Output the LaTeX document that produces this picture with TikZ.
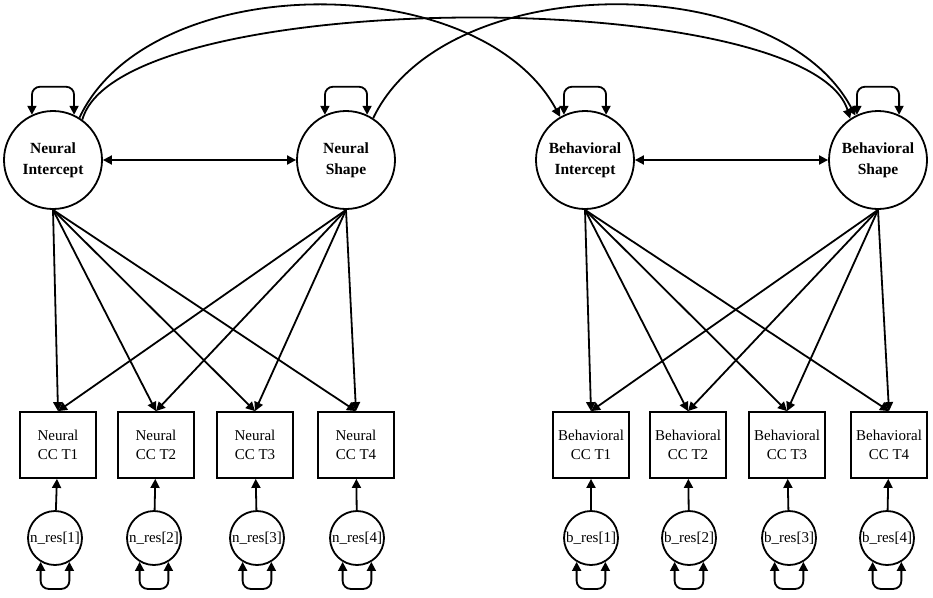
\documentclass[tikz,border=0pt]{standalone}
\usepackage{fontspec}
\setmainfont{Liberation Serif}
\usetikzlibrary{arrows.meta}
\begin{document}
\begin{tikzpicture}[x=1pt,y=-1pt,
  >={Triangle[length=9pt,width=9pt]},
  lat/.style={circle,draw,line width=1.8pt,minimum size=98pt,inner sep=0pt,align=center,font=\fontsize{15.5}{21}\selectfont\bfseries},
  obs/.style={rectangle,draw,line width=1.8pt,minimum width=76pt,minimum height=66pt,inner sep=0pt,align=center,font=\fontsize{15}{19}\selectfont},
  res/.style={circle,draw,line width=1.8pt,minimum size=54pt,inner sep=0pt,font=\fontsize{15}{18}\selectfont},
  conn/.style={line width=1.8pt,->},
  dconn/.style={line width=1.8pt,<->},
  loopup/.style={line width=1.8pt,<->,rounded corners=8pt},
]
\useasboundingbox (0,0) rectangle (933,597);

% latent factors
\node[lat] (NI) at (53,160) {Neural\\Intercept};
\node[lat] (NS) at (346,160) {Neural\\Shape};
\node[lat] (BI) at (585,160) {Behavioral\\Intercept};
\node[lat] (BS) at (878,160) {Behavioral\\Shape};

% observed
\node[obs] (N1) at (58,445) {Neural\\CC T1};
\node[obs] (N2) at (156,445) {Neural\\CC T2};
\node[obs] (N3) at (255,445) {Neural\\CC T3};
\node[obs] (N4) at (356,445) {Neural\\CC T4};
\node[obs] (B1) at (591,445) {Behavioral\\CC T1};
\node[obs] (B2) at (688,445) {Behavioral\\CC T2};
\node[obs] (B3) at (787,445) {Behavioral\\CC T3};
\node[obs] (B4) at (889,445) {Behavioral\\CC T4};

% residuals
\node[res] (NR1) at (55,538) {n\_res[1]};
\node[res] (NR2) at (154,538) {n\_res[2]};
\node[res] (NR3) at (257,538) {n\_res[3]};
\node[res] (NR4) at (357,538) {n\_res[4]};
\node[res] (BR1) at (591,538) {b\_res[1]};
\node[res] (BR2) at (689,538) {b\_res[2]};
\node[res] (BR3) at (789,538) {b\_res[3]};
\node[res] (BR4) at (887,538) {b\_res[4]};

% loadings
\foreach \i in {1,2,3,4} {
  \draw[conn] (NI.south) -- (N\i.north);
  \draw[conn] (NS.south) -- (N\i.north);
  \draw[conn] (BI.south) -- (B\i.north);
  \draw[conn] (BS.south) -- (B\i.north);
  \draw[conn] (NR\i) -- (N\i);
  \draw[conn] (BR\i) -- (B\i);
  \draw[loopup] (NR\i.239) -- ++(0,27) -| (NR\i.301);
  \draw[loopup] (BR\i.239) -- ++(0,27) -| (BR\i.301);
}

% latent variances
\foreach \n in {NI,NS,BI,BS} {
  \draw[loopup] (\n.115) -- ++(0,-28) -| (\n.65);
}

% covariances
\draw[dconn] (NI) -- (NS);
\draw[dconn] (BI) -- (BS);
\draw[conn] (NI.58) .. controls (150,-32) and (480,-32) .. (BI.120);
\draw[conn] (NI.54) .. controls (120,-15) and (810,-15) .. (BS.124);
\draw[conn] (NS.57) .. controls (445,-32) and (777,-32) .. (BS.117);
\end{tikzpicture}
\end{document}
